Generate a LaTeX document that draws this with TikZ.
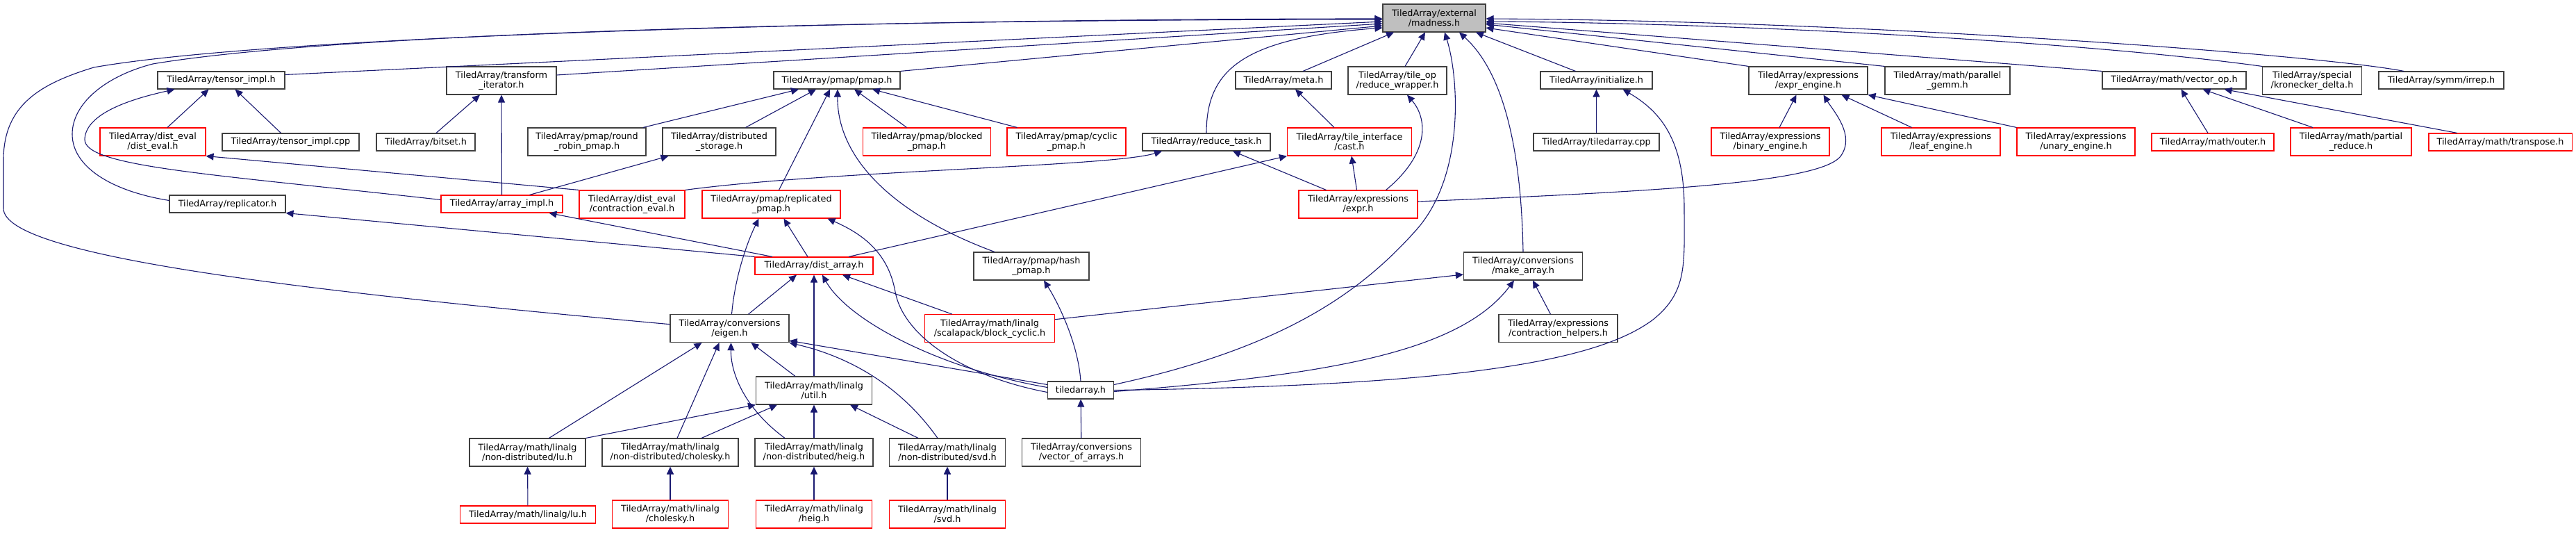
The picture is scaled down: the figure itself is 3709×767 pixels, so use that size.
\documentclass[tikz,border=0pt]{standalone}
\usepackage{fontspec}
\newfontfamily\dxfont{DejaVu Sans}
\definecolor{edgeblue}{HTML}{191970}
\definecolor{curgray}{HTML}{BFBFBF}
\definecolor{boxgray}{HTML}{404040}
\usetikzlibrary{arrows.meta}
\tikzset{
  hfile/.style={draw=boxgray, fill=white, line width=1.1pt, inner sep=0pt,
    minimum height=25pt, align=center, font=\dxfont\fontsize{12.8}{14}\selectfont},
  hred/.style={hfile, draw=red},
  hcur/.style={hfile, fill=curgray},
  two/.style={minimum height=40pt},
  inc/.style={edgeblue, line width=1.1pt, ->}
}

\begin{document}
\begin{tikzpicture}[x=1pt, y=-1pt, >={Triangle[length=11pt,width=10pt]}]
  \useasboundingbox (0,0) rectangle (3709,767);
  % Row 1
  \node[hcur, two, minimum width=148pt] (madness) at (2065,26) {TiledArray/external\\/madness.h};
  \node[hfile, minimum width=183pt] (timpl) at (318.5,115.5) {TiledArray/tensor\_impl.h};
  \node[hfile, two, minimum width=158pt] (transiter) at (722,116) {TiledArray/transform\\\_iterator.h};
  \node[hfile, minimum width=182pt] (pmap) at (1205,115.5) {TiledArray/pmap/pmap.h};
  \node[hfile, minimum width=138pt] (meta) at (1848,115.5) {TiledArray/meta.h};
  \node[hfile, two, minimum width=142pt] (redwrap) at (2012,116) {TiledArray/tile\_op\\/reduce\_wrapper.h};
  \node[hfile, minimum width=161pt] (init) at (2298.5,115.5) {TiledArray/initialize.h};
  \node[hfile, two, minimum width=171pt] (exprengine) at (2603.5,116) {TiledArray/expressions\\/expr\_engine.h};
  \node[hfile, two, minimum width=180pt] (pargemm) at (2804,116) {TiledArray/math/parallel\\\_gemm.h};
  \node[hfile, minimum width=207pt] (vecop) at (3130.5,115.5) {TiledArray/math/vector\_op.h};
  \node[hfile, two, minimum width=143pt] (kron) at (3329,116) {TiledArray/special\\/kronecker\_delta.h};
  \node[hfile, minimum width=180pt] (irrep) at (3515,115.5) {TiledArray/symm/irrep.h};
  % Row 2
  \node[hred, two, minimum width=152pt] (disteval) at (220,204) {TiledArray/dist\_eval\\/dist\_eval.h};
  \node[hfile, minimum width=197pt] (timplcpp) at (418.5,204.5) {TiledArray/tensor\_impl.cpp};
  \node[hfile, minimum width=142pt] (bitset) at (613,204.5) {TiledArray/bitset.h};
  \node[hfile, two, minimum width=170pt] (roundrobin) at (845,204) {TiledArray/pmap/round\\\_robin\_pmap.h};
  \node[hfile, two, minimum width=163pt] (diststorage) at (1035.5,204) {TiledArray/distributed\\\_storage.h};
  \node[hred, two, minimum width=184pt] (blocked) at (1334.5,204) {TiledArray/pmap/blocked\\\_pmap.h};
  \node[hred, two, minimum width=171pt] (cyclic) at (1535.5,204) {TiledArray/pmap/cyclic\\\_pmap.h};
  \node[hfile, minimum width=184pt] (reducetask) at (1737,204.5) {TiledArray/reduce\_task.h};
  \node[hred, two, minimum width=179pt] (cast) at (1943,204) {TiledArray/tile\_interface\\/cast.h};
  \node[hfile, minimum width=181pt] (tacpp) at (2298.5,204.5) {TiledArray/tiledarray.cpp};
  \node[hred, two, minimum width=170pt] (binary) at (2549,204) {TiledArray/expressions\\/binary\_engine.h};
  \node[hred, two, minimum width=171pt] (leaf) at (2794.5,204) {TiledArray/expressions\\/leaf\_engine.h};
  \node[hred, two, minimum width=170pt] (unary) at (2989,204) {TiledArray/expressions\\/unary\_engine.h};
  \node[hred, minimum width=176pt] (outer) at (3186,204.5) {TiledArray/math/outer.h};
  \node[hred, two, minimum width=174pt] (partred) at (3385,204) {TiledArray/math/partial\\\_reduce.h};
  \node[hred, minimum width=206pt] (transpose) at (3600,204.5) {TiledArray/math/transpose.h};
  % Row 3
  \node[hfile, minimum width=167pt] (replicator) at (327.5,293.5) {TiledArray/replicator.h};
  \node[hred, minimum width=175pt] (arrayimpl) at (722.5,293.5) {TiledArray/array\_impl.h};
  \node[hred, two, minimum width=152pt] (contreval) at (910,294) {TiledArray/dist\_eval\\/contraction\_eval.h};
  \node[hred, two, minimum width=199pt] (replpmap) at (1110.5,294) {TiledArray/pmap/replicated\\\_pmap.h};
  \node[hred, two, minimum width=171pt] (expr) at (1955.5,294) {TiledArray/expressions\\/expr.h};
  % Row 4
  \node[hred, minimum width=170pt] (distarray) at (1172,382.5) {TiledArray/dist\_array.h};
  \node[hfile, two, minimum width=166pt] (hashpmap) at (1485,383) {TiledArray/pmap/hash\\\_pmap.h};
  \node[hfile, two, minimum width=171pt] (makearray) at (2193,383) {TiledArray/conversions\\/make\_array.h};
  % Row 5
  \node[hfile, two, minimum width=171pt] (eigen) at (1050.5,472.7) {TiledArray/conversions\\/eigen.h};
  \node[hred, two, minimum width=187pt] (blockcyc) at (1425,472.7) {TiledArray/math/linalg\\/scalapack/block\_cyclic.h};
  \node[hfile, two, minimum width=171pt] (contrhelp) at (2243.5,472.7) {TiledArray/expressions\\/contraction\_helpers.h};
  % Row 6
  \node[hfile, two, minimum width=167pt] (util) at (1172,562) {TiledArray/math/linalg\\/util.h};
  \node[hfile, minimum width=95pt] (tah) at (1556,561.5) {tiledarray.h};
  % Row 7
  \node[hfile, two, minimum width=167pt] (ndlu) at (759.5,651) {TiledArray/math/linalg\\/non-distributed/lu.h};
  \node[hfile, two, minimum width=196pt] (ndchol) at (965,651) {TiledArray/math/linalg\\/non-distributed/cholesky.h};
  \node[hfile, two, minimum width=170pt] (ndheig) at (1172,651) {TiledArray/math/linalg\\/non-distributed/heig.h};
  \node[hfile, two, minimum width=167pt] (ndsvd) at (1364,651) {TiledArray/math/linalg\\/non-distributed/svd.h};
  \node[hfile, two, minimum width=171pt] (vecarrays) at (1557,651) {TiledArray/conversions\\/vector\_of\_arrays.h};
  % Row 8
  \node[hred, minimum width=195pt] (lu) at (760,740.5) {TiledArray/math/linalg/lu.h};
  \node[hred, two, minimum width=167pt] (chol) at (965,740) {TiledArray/math/linalg\\/cholesky.h};
  \node[hred, two, minimum width=167pt] (heig) at (1172,740) {TiledArray/math/linalg\\/heig.h};
  \node[hred, two, minimum width=167pt] (svd) at (1364,740) {TiledArray/math/linalg\\/svd.h};

  % Into madness.h
  \draw[inc] ([yshift=6pt]eigen.west) .. controls (450,420) and (5,370) .. (5,300) -- (5,230)
    .. controls (5,150) and (60,120) .. (135,97) .. controls (400,50) and (1300,27) .. ([yshift=-1pt]madness.west);
  \draw[inc] ([yshift=5pt]replicator.west) .. controls (160,275) and (104,240) .. (104,193)
    .. controls (104,150) and (150,110) .. (220,92) .. controls (500,45) and (1300,28) .. ([yshift=-2pt]madness.west);
  \draw[inc] ([yshift=8pt]timpl.east) -- ([yshift=-5pt]madness.west);
  \draw[inc] ([yshift=8pt]transiter.east) -- ([yshift=-8pt]madness.west);
  \draw[inc] (pmap.north east) -- ([yshift=-11pt]madness.west);
  \draw[inc] (reducetask.north) .. controls (1737,100) and (1790,55) .. ([yshift=-14pt]madness.west);
  \draw[inc] ([xshift=28pt]meta.north) -- ([xshift=-58pt]madness.south);
  \draw[inc] ([xshift=11pt]redwrap.north) -- ([xshift=-13pt]madness.south);
  \draw[inc] ([yshift=8pt]tah.east) .. controls (1850,500) and (1960,420) .. (2040,330)
    .. controls (2110,250) and (2100,110) .. ([xshift=15pt]madness.south);
  \draw[inc] (makearray.north) .. controls (2190,200) and (2160,100) .. ([xshift=36pt]madness.south);
  \draw[inc] ([xshift=-30pt]init.north) -- ([xshift=60pt]madness.south);
  \draw[inc] (exprengine.north west) -- ([yshift=-14pt]madness.east);
  \draw[inc] (pargemm.north west) -- ([yshift=-9pt]madness.east);
  \draw[inc] (vecop.north west) -- ([yshift=-7pt]madness.east);
  \draw[inc] (kron.north west) .. controls (3000,60) and (2500,33) .. ([yshift=-5pt]madness.east);
  \draw[inc] ([xshift=-54pt]irrep.north) .. controls (3350,80) and (2700,30) .. ([yshift=-1pt]madness.east);
  % Row 2 to row 1
  \draw[inc] ([xshift=21pt]disteval.north) -- ([xshift=-18pt]timpl.south);
  \draw[inc] ([xshift=-14pt]timplcpp.north) -- ([xshift=20pt]timpl.south);
  \draw[inc] ([xshift=15pt]bitset.north) -- ([xshift=-31pt]transiter.south);
  \draw[inc] ([xshift=81pt]roundrobin.north) -- ([xshift=-55pt]pmap.south);
  \draw[inc] ([xshift=38pt]diststorage.north) -- ([xshift=-30pt]pmap.south);
  \draw[inc] ([xshift=-29pt]blocked.north) -- ([xshift=25pt]pmap.south);
  \draw[inc] ([xshift=-71pt]cyclic.north) -- ([xshift=51pt]pmap.south);
  \draw[inc] ([xshift=-22pt]cast.north) -- ([xshift=17pt]meta.south);
  \draw[inc] (tacpp) -- (init);
  \draw[inc] ([xshift=13pt]binary.north) -- ([xshift=-17pt]exprengine.south);
  \draw[inc] ([xshift=-42pt]leaf.north) -- ([xshift=48pt]exprengine.south);
  \draw[inc] (unary.north west) -- (exprengine.south east);
  \draw[inc] ([xshift=-7pt]outer.north) -- ([xshift=10pt]vecop.south);
  \draw[inc] ([xshift=-55pt]partred.north) -- ([xshift=41pt]vecop.south);
  \draw[inc] ([xshift=-62pt]transpose.north) -- ([xshift=72pt]vecop.south);
  % Row 3
  \draw[inc] ([yshift=6pt]arrayimpl.west) .. controls (300,250) and (120,240) .. (122,200)
    .. controls (124,160) and (200,140) .. ([xshift=-67pt]timpl.south);
  \draw[inc] (arrayimpl.north) -- (transiter.south);
  \draw[inc] ([xshift=40pt]arrayimpl.north) -- ([xshift=-73pt]diststorage.south);
  \draw[inc] (contreval.north west) -- (disteval.south east);
  \draw[inc] (contreval.north east) .. controls (1200,245) and (1600,240) .. ([xshift=-64pt]reducetask.south);
  \draw[inc] ([xshift=11pt]replpmap.north) -- ([xshift=-10pt]pmap.south);
  \draw[inc] ([xshift=-46pt]expr.north) -- ([xshift=38pt]reducetask.south);
  \draw[inc] ([xshift=-2pt]expr.north) -- ([xshift=3pt]cast.south);
  \draw[inc] ([xshift=40pt]expr.north) .. controls (2060,220) and (2055,170) .. ([xshift=14pt]redwrap.south);
  \draw[inc] ([yshift=4pt]expr.east) .. controls (2400,275) and (2620,262) .. (2650,225)
    .. controls (2672,195) and (2640,160) .. ([xshift=22pt]exprengine.south);
  % Row 4
  \draw[inc] (distarray.north west) -- (replicator.south east);
  \draw[inc] ([xshift=-60pt]distarray.north) -- ([xshift=68pt]arrayimpl.south);
  \draw[inc] ([xshift=-9pt]distarray.north) -- ([xshift=18pt]replpmap.south);
  \draw[inc] ([xshift=50pt]distarray.north) -- (cast.south west);
  \draw[inc] ([xshift=-53pt]hashpmap.north) .. controls (1290,310) and (1205,230) .. ([xshift=1pt]pmap.south);
  % Row 5
  \draw[inc] ([xshift=3pt]eigen.north) .. controls (1058,400) and (1075,350) .. ([xshift=-18pt]replpmap.south);
  \draw[inc] ([xshift=27pt]eigen.north) -- ([xshift=-25pt]distarray.south);
  \draw[inc] ([xshift=-54pt]blockcyc.north) -- ([xshift=41pt]distarray.south);
  \draw[inc] ([yshift=13pt]blockcyc.east) -- ([yshift=-12pt]makearray.west);
  \draw[inc] ([xshift=-11pt]contrhelp.north) -- ([xshift=14pt]makearray.south);
  % Row 6
  \draw[inc] (util) -- (distarray);
  \draw[inc] ([xshift=-27pt]util.north) -- ([xshift=31pt]eigen.south);
  \draw[inc] ([yshift=8pt]tah.west) -- ([yshift=3pt]eigen.south east);
  \draw[inc] ([yshift=4pt]tah.west) .. controls (1350,530) and (1220,460) .. ([xshift=12pt]distarray.south);
  \draw[inc] ([yshift=-3pt]tah.west) .. controls (1380,540) and (1300,480) .. (1289,420)
    .. controls (1280,370) and (1250,340) .. ([xshift=81pt]replpmap.south);
  \draw[inc] (tah.north) .. controls (1552,490) and (1520,430) .. ([xshift=18pt]hashpmap.south);
  \draw[inc] ([yshift=-2pt]tah.east) .. controls (1900,540) and (2100,510) .. ([xshift=-13pt]makearray.south);
  \draw[inc] (tah.east) .. controls (2100,555) and (2300,520) .. (2380,460)
    .. controls (2430,420) and (2425,380) .. (2425,300) .. controls (2425,200) and (2390,160) .. ([xshift=38pt]init.south);
  % Row 7
  \draw[inc] ([xshift=31pt]ndlu.north) -- ([xshift=-40pt]eigen.south);
  \draw[inc] ([xshift=10pt]ndchol.north) -- ([xshift=-15pt]eigen.south);
  \draw[inc] ([xshift=-42pt]ndheig.north) .. controls (1075,590) and (1052,540) .. ([xshift=2pt]eigen.south);
  \draw[inc] ([xshift=-14pt]ndsvd.north) .. controls (1300,560) and (1230,515) .. (eigen.south east);
  \draw[inc] (ndlu.north east) -- (util.south west);
  \draw[inc] ([xshift=45pt]ndchol.north) -- ([xshift=-53pt]util.south);
  \draw[inc] (ndheig) -- (util);
  \draw[inc] ([xshift=-42pt]ndsvd.north) -- ([xshift=52pt]util.south);
  \draw[inc] (vecarrays) -- (tah);
  % Row 8
  \draw[inc] (lu) -- (ndlu);
  \draw[inc] (chol) -- (ndchol);
  \draw[inc] (heig) -- (ndheig);
  \draw[inc] (svd) -- (ndsvd);
\end{tikzpicture}
\end{document}
